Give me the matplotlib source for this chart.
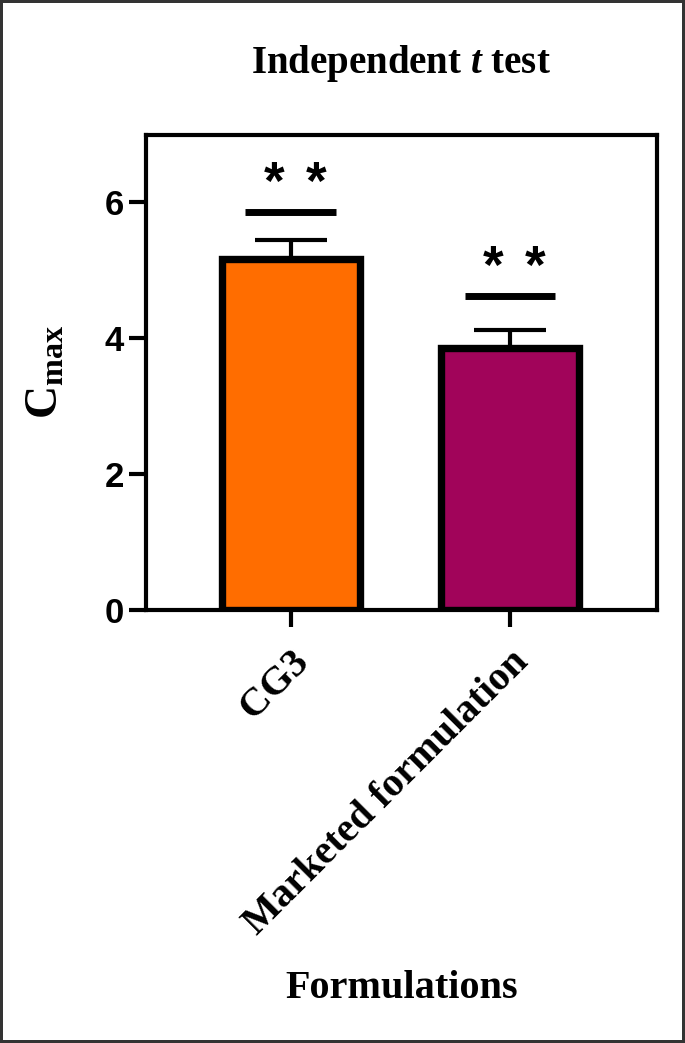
import numpy as np
import matplotlib
matplotlib.use('Agg')
import matplotlib.pyplot as plt

# data
groups = ['CG3', 'Marketed formulation']
cmax = [5.17, 3.86]
sem = [0.28, 0.27]
sig_y = [5.86, 4.63]
sig_text = ['**', '**']
colors = ['#FF6D00', '#A1045A']

plt.rcParams['mathtext.fontset'] = 'custom'
plt.rcParams['mathtext.rm'] = 'Liberation Serif:bold'
plt.rcParams['mathtext.bf'] = 'Liberation Serif:bold'
plt.rcParams['mathtext.it'] = 'Liberation Serif:italic:bold'

serif = 'Liberation Serif'
sans = 'Liberation Sans'

fig = plt.figure(figsize=(6.85, 10.43), dpi=100)
fig.patch.set_edgecolor('#333333')
fig.patch.set_linewidth(3)
ax = fig.add_axes([0.213, 0.415, 0.746, 0.456])

x = np.arange(len(groups))
ax.errorbar(x, cmax, yerr=[np.zeros(len(sem)), sem], fmt='none', ecolor='black',
            elinewidth=3, capsize=26, capthick=3, zorder=1)
ax.bar(x, cmax, width=0.63, color=colors, edgecolor='black', linewidth=5.3, zorder=2)

for xi, yi, s in zip(x, sig_y, sig_text):
    ax.plot([xi - 0.207, xi + 0.207], [yi, yi], color='black', lw=5, solid_capstyle='butt')
    # draw the stars one by one so the gap between them matches
    n = len(s)
    for k in range(n):
        dx = (k - (n - 1) / 2) * 0.19
        ax.text(xi + 0.02 + dx, yi + 0.03, s[k], ha='center', va='bottom', fontsize=38,
                fontweight='bold', family=sans)

ax.set_xlim(-0.66, 1.67)
ax.set_ylim(0, 7)
ax.set_yticks([0, 2, 4, 6])
ax.set_xticks(x)
ax.set_xticklabels(groups, rotation=45, ha='right', rotation_mode='anchor',
                   fontsize=29, fontweight='bold', family=serif)
for lab in ax.get_yticklabels():
    lab.set_fontsize(25)
    lab.set_fontweight('bold')
    lab.set_family(sans)
ax.tick_params(axis='both', width=3, length=12, color='black')
ax.tick_params(axis='x', pad=12)
ax.tick_params(axis='y', pad=4)
for sp in ax.spines.values():
    sp.set_linewidth(3)

ax.set_ylabel(r'$\mathbf{C}_{\mathbf{max}}$', fontsize=33, labelpad=26)
ax.set_xlabel('Formulations', fontsize=29, fontweight='bold', family=serif, labelpad=20)
ax.set_title('Independent $t$ test', fontsize=28, fontweight='bold', family=serif, pad=44)

fig.savefig('out.png', dpi=100, edgecolor=fig.get_edgecolor())
